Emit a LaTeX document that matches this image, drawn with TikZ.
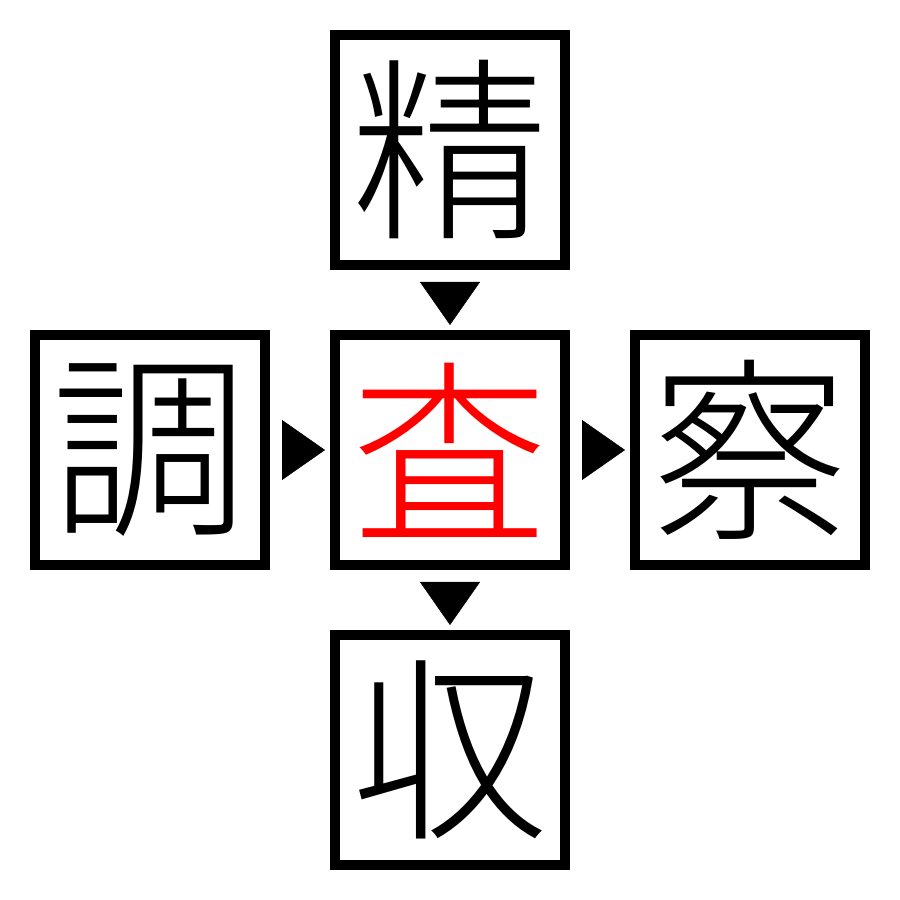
\documentclass[tikz,border=0pt]{standalone}
\usepackage{fontspec}
\newfontfamily\cjk{Noto Sans CJK JP}[UprightFont=* Light]
\usetikzlibrary{positioning, arrows.meta}

\begin{document}
\begin{tikzpicture}[
    node distance=0.6cm,
    kanji/.style={draw, line width=0.1cm, minimum size=2.3cm, inner sep=0pt, font=\cjk\fontsize{56}{56}\selectfont},
    pointer/.style={line width=0.1pt, shorten <=1.2mm, shorten >=0.5mm, -{Triangle[width=6mm,length=4.3mm]}}
    ]
        \useasboundingbox (0,0) rectangle (9,9);

        % boxes
        \node[kanji, text=red] (cha) at (4.5,4.5) {査};
        \node[kanji, above=of cha] (jing) {精};
        \node[kanji, left=of cha] (diao) {調};
        \node[kanji, right=of cha] (cai) {察};
        \node[kanji, below=of cha] (shou) {収};

        % arrow heads
        \draw[pointer] (jing.south) -- (cha.north);
        \draw[pointer] (diao.east) -- (cha.west);
        \draw[pointer] (cha.east) -- (cai.west);
        \draw[pointer] (cha.south) -- (shou.north);
    \end{tikzpicture}
\end{document}
